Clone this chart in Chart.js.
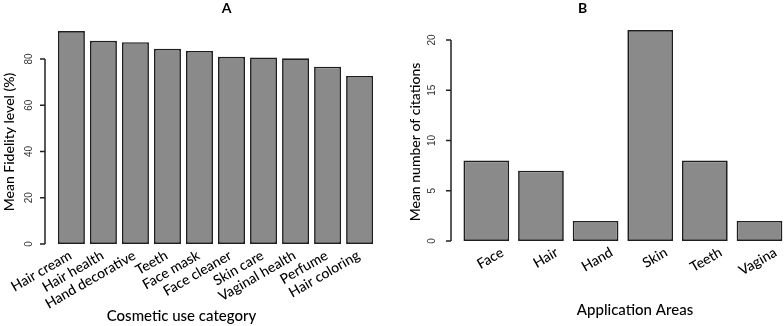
<!DOCTYPE html>
<html>
<head>
<meta charset="utf-8">
<script src="https://cdn.jsdelivr.net/npm/chart.js@4.4.1/dist/chart.umd.min.js"></script>
<style>
  html, body { margin: 0; padding: 0; background: #fff; overflow: hidden; width: 784px; height: 326px; }
  .wrap { position: absolute; top: 0; height: 326px; }
  #wa { left: 0; width: 390px; }
  #wb { left: 390px; width: 400px; }
</style>
</head>
<body>
<div class="wrap" id="wa"><canvas id="ca" width="390" height="326"></canvas></div>
<div class="wrap" id="wb"><canvas id="cb" width="400" height="326"></canvas></div>
<script>
// ---- Data: panel A ----
const categoriesA = ["Hair cream", "Hair health", "Hand decorative", "Teeth", "Face mask",
  "Face cleaner", "Skin care", "Vaginal health", "Perfume", "Hair coloring"];
const fidelityA = [92.1, 87.9, 87.3, 84.4, 83.5, 81.0, 80.7, 80.3, 76.7, 72.7];
const yTicksA = [0, 20, 40, 60, 80];

// ---- Data: panel B ----
const categoriesB = ["Face", "Hair", "Hand", "Skin", "Teeth", "Vagina"];
const citationsB = [8, 7, 2, 21, 8, 2];
const yTicksB = [0, 5, 10, 15, 20];

const BAR_FILL = '#8a8a8a';
const BAR_EDGE = '#1e1e1e';
const TEXT = '#000000';
const FONT = 'Lato, "Open Sans", sans-serif';

// R-style axis / titles plugin
const rStyle = {
  id: 'rStyle',
  afterDraw(chart, args, o) {
    const ctx = chart.ctx;
    const ca = chart.chartArea;
    const y = chart.scales.y;
    const ax = ca.left - o.axisGap;
    ctx.save();
    ctx.strokeStyle = '#222';
    ctx.lineWidth = 1.5;
    const y0 = y.getPixelForValue(o.ticks[0]);
    const y1 = y.getPixelForValue(o.ticks[o.ticks.length - 1]);
    ctx.beginPath();
    ctx.moveTo(ax, y0); ctx.lineTo(ax, y1);
    o.ticks.forEach(t => {
      const py = y.getPixelForValue(t);
      ctx.moveTo(ax, py); ctx.lineTo(ax - 5, py);
    });
    ctx.stroke();
    // tick labels (rotated, like R las=0)
    ctx.fillStyle = '#333';
    ctx.font = '10px "Liberation Sans", Arial, sans-serif';
    ctx.textAlign = 'center';
    ctx.textBaseline = 'middle';
    o.ticks.forEach(t => {
      const py = y.getPixelForValue(t);
      ctx.save();
      ctx.translate(ax - o.labelGap, py);
      ctx.rotate(-Math.PI / 2);
      ctx.fillText(String(t), 0, 0);
      ctx.restore();
    });
    // y title
    ctx.fillStyle = TEXT;
    ctx.font = '500 14px ' + FONT;
    ctx.save();
    ctx.translate(o.yTitleX, o.yTitleY);
    ctx.rotate(-Math.PI / 2);
    ctx.fillText(o.yTitle, 0, 0);
    ctx.restore();
    // x title
    ctx.font = '500 15px ' + FONT;
    ctx.fillText(o.xTitle, o.xTitleX, o.xTitleY);
    // panel title
    ctx.font = 'bold 14px ' + FONT;
    ctx.fillText(o.panel, o.panelX, o.panelY);
    ctx.restore();
  }
};

function makeChart(id, labels, values, yMax, bottomH, pad, barPct, labelOffset, tickPad, rOpts) {
  return new Chart(document.getElementById(id), {
    type: 'bar',
    data: {
      labels: labels,
      datasets: [{
        data: values,
        backgroundColor: BAR_FILL,
        borderColor: BAR_EDGE,
        borderWidth: 1.7,
        borderSkipped: false,
        categoryPercentage: 1.0,
        barPercentage: barPct
      }]
    },
    options: {
      responsive: false,
      animation: false,
      events: [],
      layout: { padding: pad },
      plugins: { legend: { display: false }, tooltip: { enabled: false }, title: { display: false }, rStyle: rOpts },
      scales: {
        x: {
          offset: true,
          grid: { display: false, drawTicks: false },
          border: { display: false },
          ticks: {
            color: TEXT,
            font: { family: FONT, size: 14, weight: '500' },
            minRotation: 30, maxRotation: 30,
            autoSkip: false,
            padding: tickPad,
            labelOffset: labelOffset
          },
          afterFit: s => { s.height = bottomH; }
        },
        y: {
          display: false,
          min: 0,
          max: yMax
        }
      }
    },
    plugins: [rStyle]
  });
}

makeChart('ca', categoriesA, fidelityA, 98.6, 82,
  { left: 55.4, right: 14.4, top: 16, bottom: 0 }, 0.843, -1, 3,
  { ticks: yTicksA, axisGap: 10.4, labelGap: 16, yTitle: 'Mean Fidelity level (%)', yTitleX: 9, yTitleY: 142,
    xTitle: 'Cosmetic use category', xTitleX: 181.5, xTitleY: 316, panel: 'A', panelX: 226.7, panelY: 8 });

makeChart('cb', categoriesB, citationsB, 22.39, 85,
  { left: 69, right: 3.2, top: 16, bottom: 0 }, 0.837, 16, 3,
  { ticks: yTicksB, axisGap: 8, labelGap: 19, yTitle: 'Mean number of citations', yTitleX: 25, yTitleY: 142,
    xTitle: 'Application Areas', xTitleX: 245, xTitleY: 310, panel: 'B', panelX: 192.7, panelY: 8 });
</script>
</body>
</html>
